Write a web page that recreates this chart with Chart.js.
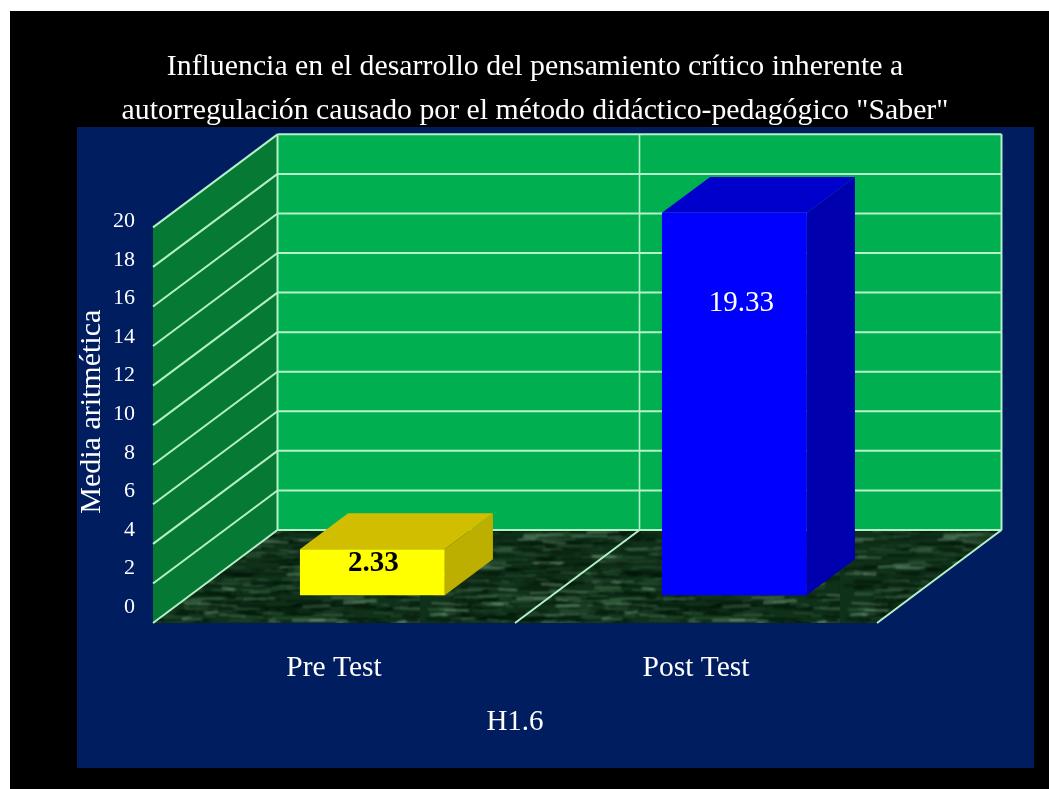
<!DOCTYPE html>
<html>
<head>
<meta charset="utf-8">
<style>html,body{margin:0;padding:0;background:#fff;overflow:hidden}canvas{display:block}</style>
<script src="https://cdn.jsdelivr.net/npm/chart.js@4"></script>
</head>
<body>
<canvas id="c" width="1049" height="789"></canvas>
<script>
const categories = ['Pre Test', 'Post Test'];
const values = [2.33, 19.33];
const valueLabels = ['2.33', '19.33'];
const yTickValues = [0, 2, 4, 6, 8, 10, 12, 14, 16, 18, 20];
const titleLines = ['Influencia en el desarrollo del pensamiento crítico inherente a',
                    'autorregulación causado por el método didáctico-pedagógico "Saber"'];
const yTitle = 'Media aritmética';
const xTitle = 'H1.6';

const SERIF = '"Liberation Serif","Times New Roman",serif';
const WALL_DX = 124.5, WALL_DY = -93;      // depth of the floor on screen
const BAR_NEAR = 0.308, BAR_FAR = 0.695;   // bar front/back as fraction of the depth
const faces = [
  {front:'#FFFF00', side:'#BDAF00', top:'#D2BE00', text:'#000000', weight:'bold', drop:14, shift:1},
  {front:'#0000FF', side:'#0000AE', top:'#0000CC', text:'#FFFFFF', weight:'normal', drop:91, shift:7}
];
const GRID = '#B4F0C8';

function poly(ctx, pts, fill){
  ctx.beginPath();
  pts.forEach((p,i)=> i?ctx.lineTo(p[0],p[1]):ctx.moveTo(p[0],p[1]));
  ctx.closePath();
  ctx.fillStyle = fill;
  ctx.fill();
}
function line(ctx, x1,y1,x2,y2,col,w){
  ctx.beginPath();ctx.moveTo(x1,y1);ctx.lineTo(x2,y2);
  ctx.strokeStyle=col;ctx.lineWidth=w;ctx.stroke();
}
// mottled floor texture, deterministic streaks
function floorPattern(ctx){
  const t=document.createElement('canvas');t.width=420;t.height=130;
  const g=t.getContext('2d');
  g.fillStyle='#0F3019';g.fillRect(0,0,420,130);
  g.filter='blur(0.8px)';
  const hash=n=>{const s=Math.sin(n*127.1+13.7)*43758.5453;return s-Math.floor(s);};
  for(let i=0;i<1100;i++){
    const x=hash(i)*420,y=hash(i+5000)*130,l=6+hash(i+9000)*34,k=hash(i+15000);
    const col=k<0.5?'rgba(0,18,6,0.6)':(k<0.85?'rgba(70,120,80,0.4)':'rgba(170,205,175,0.4)');
    g.strokeStyle=col;g.lineWidth=0.8+hash(i+21000)*1.6;
    g.beginPath();g.moveTo(x,y);g.lineTo(x+l,y+(hash(i+27000)-0.5)*3);g.stroke();
  }
  return ctx.createPattern(t,'repeat');
}

const scene3d = {
  id:'scene3d',
  afterLayout(chart){
    // centre the title over the panel rather than over the plot
    chart.titleBlock.left = 21;
    chart.titleBlock.right = 1049;
  },
  beforeDraw(chart){
    const c=chart.ctx, {x,y}=chart.scales, A=chart.chartArea;
    c.save();
    c.fillStyle='#fff';c.fillRect(0,0,1049,789);
    c.fillStyle='#000';c.fillRect(10,11,1039,778);
    c.fillStyle='#001D60';c.fillRect(77,127,957,641);
    const L=A.left,R=A.right,y0=y.getPixelForValue(0),yT=y.getPixelForValue(20);
    const dx=WALL_DX,dy=WALL_DY;
    // floor, side wall, back wall
    poly(c,[[L,y0],[L+dx,y0+dy],[R+dx,y0+dy],[R,y0]],floorPattern(c));
    poly(c,[[L,yT],[L+dx,yT+dy],[L+dx,y0+dy],[L,y0]],'#067A35');
    poly(c,[[L+dx,yT+dy],[R+dx,yT+dy],[R+dx,y0+dy],[L+dx,y0+dy]],'#00B050');
    // horizontal grid from the value scale
    yTickValues.forEach(v=>{
      const p=y.getPixelForValue(v);
      line(c,L,p,L+dx,p+dy,GRID,2);
      line(c,L+dx,p+dy,R+dx,p+dy,GRID,2);
    });
    // wall edges and category divider
    const mid=(x.getPixelForValue(0)+x.getPixelForValue(1))/2;
    line(c,L+dx,yT+dy,L+dx,y0+dy,GRID,2);
    line(c,R+dx,yT+dy,R+dx,y0+dy,GRID,2);
    line(c,mid+dx,yT+dy,mid+dx,y0+dy,GRID,1.6);
    line(c,mid,y0,mid+dx,y0+dy,GRID,2);
    line(c,R,y0,R+dx,y0+dy,GRID,2);
    c.restore();
  },
  beforeDatasetsDraw(chart){
    const c=chart.ctx, bars=chart.getDatasetMeta(0).data;
    const nx=WALL_DX*BAR_NEAR,ny=WALL_DY*(BAR_NEAR-0.01);
    const ddx=WALL_DX*(BAR_FAR-BAR_NEAR),ddy=WALL_DY*(BAR_FAR-BAR_NEAR);
    c.save();
    c.translate(nx,ny);
    bars.forEach((b,i)=>{
      const l=b.x-b.width/2,r=b.x+b.width/2,t=b.y,bt=b.base,f=faces[i];
      poly(c,[[r,t],[r+ddx,t+ddy],[r+ddx,bt+ddy],[r,bt]],f.side);
      poly(c,[[l,t],[l+ddx,t+ddy],[r+ddx,t+ddy],[r,t]],f.top);
    });
    // the front faces are drawn by Chart.js inside this translation
  },
  afterDatasetsDraw(chart){
    const c=chart.ctx, bars=chart.getDatasetMeta(0).data;
    bars.forEach((b,i)=>{
      const f=faces[i];
      c.font=f.weight+' 29px '+SERIF;
      c.fillStyle=f.text;c.textAlign='center';c.textBaseline='middle';
      c.fillText(valueLabels[i],b.x+f.shift,b.y+f.drop);
    });
    c.restore();
  }
};

new Chart(document.getElementById('c'),{
  type:'bar',
  data:{labels:categories,datasets:[{
    label:yTitle,data:values,clip:false,
    backgroundColor:faces.map(f=>f.front),borderWidth:0,
    barPercentage:1,categoryPercentage:0.4,yAxisID:'y'
  }]},
  options:{
    responsive:false,animation:false,
    layout:{padding:{left:77,right:172,top:0,bottom:46}},
    plugins:{
      legend:{display:false},tooltip:{enabled:false},
      title:{display:true,text:titleLines,color:'#FFFFFF',
        font:{family:SERIF,size:29.8,weight:'normal',lineHeight:1.45},
        padding:{top:46,bottom:68}}
    },
    scales:{
      x:{position:'bottom',grid:{display:false},border:{display:false},
        ticks:{color:'#FFFFFF',font:{family:SERIF,size:29.5},padding:20,maxRotation:0},
        title:{display:true,text:xTitle,color:'#FFFFFF',font:{family:SERIF,size:29,lineHeight:1.2},padding:{top:0,bottom:3}},
        afterFit(s){s.height=120;}},
      y:{display:false,min:0,max:21.36},
      y2:{position:'left',min:-0.83,max:21.09,grid:{display:false,drawTicks:false},border:{display:false},
        afterBuildTicks(s){s.ticks=yTickValues.map(v=>({value:v}));},
        ticks:{color:'#FFFFFF',font:{family:SERIF,size:22},padding:18,autoSkip:false},
        title:{display:true,text:yTitle,color:'#FFFFFF',font:{family:SERIF,size:30,lineHeight:1},padding:0},
        afterFit(s){s.width=76;}}
    }
  },
  plugins:[scene3d]
});
</script>
</body>
</html>
